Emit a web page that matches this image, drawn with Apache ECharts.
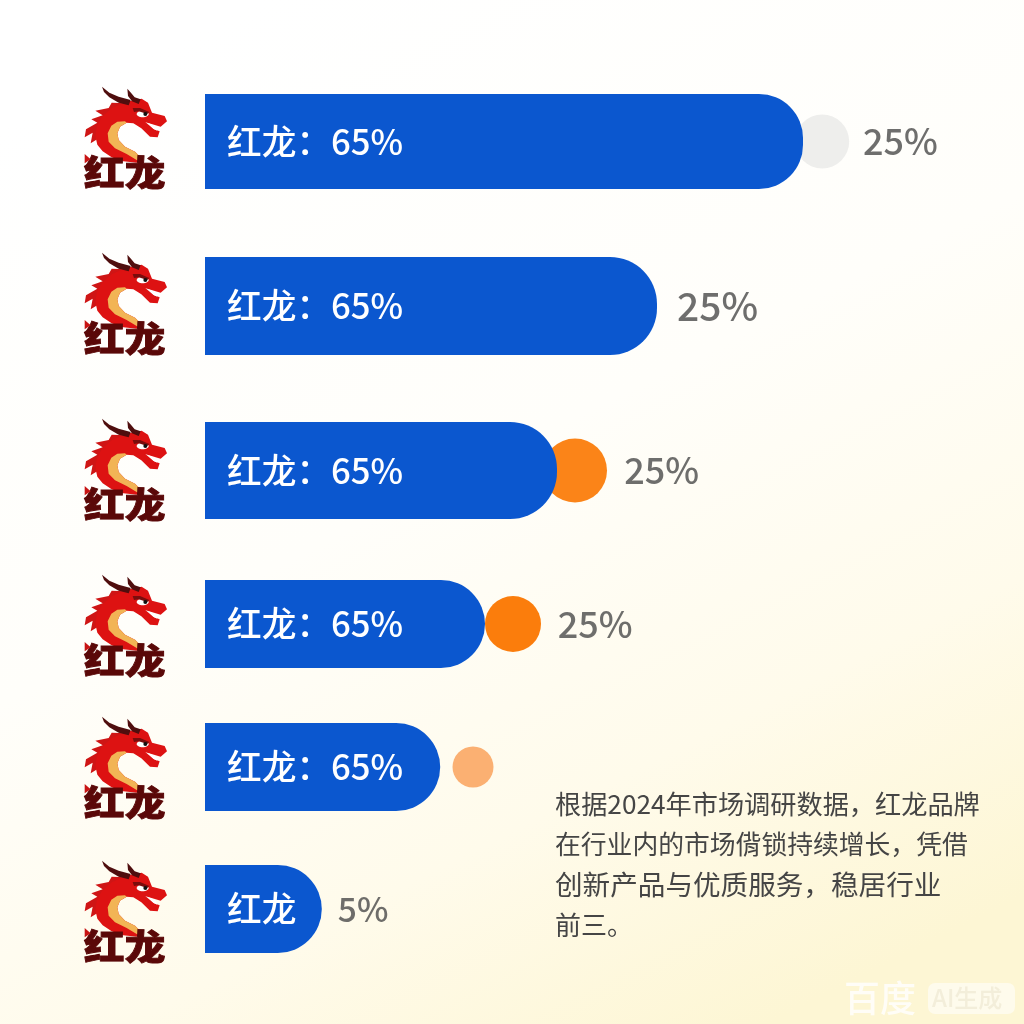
<!DOCTYPE html>
<html><head><meta charset="utf-8">
<style>html,body{margin:0;padding:0;background:#fff}#c{width:1024px;height:1024px}</style>
<script src="https://cdn.jsdelivr.net/npm/echarts@6/dist/echarts.min.js"></script>
</head><body><div id="c"></div>
<script>
// ---- data ----
const brands = ['红龙', '红龙', '红龙', '红龙', '红龙', '红龙'];
const barLabels = ['红龙：65%', '红龙：65%', '红龙：65%', '红龙：65%', '红龙：65%', '红龙'];
const barLengths = [74.75, 56.5, 44, 35, 29.4, 14.6];
const shareLabels = ['25%', '25%', '25%', '25%', '', '5%'];
const noteLines = ['根据2024年市场调研数据，红龙品牌', '在行业内的市场偝锁持续增长，凭借', '创新产品与优质服务，稳居行业', '前三。'];

// ---- layout and style (not data) ----
const FONT = '"Noto Sans CJK SC","Noto Sans",sans-serif';
const BLUE = '#0b57cf';
const rows = [
  {top: 94,  h: 95, r: 44, logoTop: 87,  dot: {off: 2.4,  size: 54, color: '#eeeeec'}, gap: 7.5, fs: 36},
  {top: 257, h: 98, r: 47, logoTop: 253, dot: null, gap: 2.5, fs: 39},
  {top: 422, h: 97, r: 47, logoTop: 419, dot: {off: 2.25, size: 64, color: '#fb8418'}, gap: 8.4, fs: 36},
  {top: 580, h: 88, r: 44, logoTop: 575, dot: {off: 3.5,  size: 56, color: '#fb7d0c'}, gap: 9.1, fs: 36},
  {top: 723, h: 88, r: 44, logoTop: 717, dot: {off: 4.1,  size: 41, color: '#fbb072'}, gap: 0,   fs: 36},
  {top: 865, h: 88, r: 44, logoTop: 861, dot: null, gap: 2,   fs: 33.5}
];
const GRID_LEFT = 205, GRID_WIDTH = 800;

const grid = [], xAxis = [], yAxis = [], series = [];
rows.forEach((row, i) => {
  grid.push({left: GRID_LEFT, width: GRID_WIDTH, top: row.top, height: row.h});
  xAxis.push({gridIndex: i, type: 'value', min: 0, max: 100, show: false});
  yAxis.push({gridIndex: i, type: 'category', data: [brands[i]], show: false});
  series.push({
    type: 'bar', name: brands[i] + i, xAxisIndex: i, yAxisIndex: i, z: 3,
    barWidth: '100%', silent: true,
    data: [barLengths[i]],
    itemStyle: {color: BLUE, borderRadius: [0, row.r, row.r, 0]},
    label: {show: true, position: 'insideLeft', distance: 22, formatter: barLabels[i],
      color: '#fff', fontFamily: FONT, fontSize: 34.7, fontWeight: 500}
  });
  if (row.dot) series.push({
    type: 'scatter', xAxisIndex: i, yAxisIndex: i, z: 2, silent: true, clip: false,
    symbol: 'circle', symbolSize: row.dot.size,
    data: [[barLengths[i] + row.dot.off, 0]],
    itemStyle: {color: row.dot.color, opacity: 1}
  });
  if (shareLabels[i]) {
    const anchor = barLengths[i] + row.gap;
    series.push({
      type: 'scatter', xAxisIndex: i, yAxisIndex: i, z: 4, silent: true, clip: false,
      symbol: 'circle', symbolSize: 0,
      data: [[anchor, 0]],
      label: {show: true, position: 'right', distance: 0, formatter: shareLabels[i],
        color: '#4a4a4a', fontFamily: FONT, fontSize: row.fs, fontWeight: 500}
    });
  }
});

// Logo drawn as polygons in a 3x coordinate space
const BODY = [[215,56],[234,68],[246,98],[284,108],[291,124],[272,140],[232,128],[252,148],[269,154],[263,172],[240,170],[214,145],[190,130],[170,128],[150,140],[142,160],[146,180],[165,200],[195,215],[214,234],[200,248],[160,244],[125,232],[98,214],[82,194],[76,168],[80,140],[96,110],[125,85],[165,66]];
const MANE = [[170,70],[125,68],[116,84],[76,92],[98,106],[64,118],[82,128],[48,148],[44,172],[68,158],[62,190],[84,176],[120,110]];
const BELLY = [[165,124],[142,125],[124,137],[113,160],[116,185],[135,205],[170,222],[205,243],[214,234],[195,215],[165,200],[146,180],[142,160],[150,140],[170,128]];
const HORN1 = [[96,20],[118,38],[146,50],[182,60],[176,76],[146,68],[118,52],[102,36]];
const HORN2 = [[172,26],[184,40],[194,52],[212,58],[206,72],[186,64],[174,48]];
const BROW = [[188,84],[210,84],[238,96],[232,102],[206,94],[192,96]];
const TEETH = [[226,126],[256,138],[262,152],[250,146]];
const SPIKE = [[44,222],[62,238],[44,250]];
const poly = (points, fill) => ({type: 'polygon', shape: {points}, style: {fill}});
const logo = top => ({
  type: 'group', x: 70, y: 80 + top - 87, scaleX: 1 / 3, scaleY: 1 / 3, silent: true,
  children: [
    poly(MANE, '#cf1515'),
    poly(BODY, '#dd1212'),
    poly(BELLY, '#f2b455'),
    poly(HORN1, '#4f0e0e'),
    poly(HORN2, '#4f0e0e'),
    poly(TEETH, '#ffffff'),
    {type: 'ellipse', shape: {cx: 218, cy: 102, rx: 18, ry: 10}, style: {fill: '#fff'}},
    poly(BROW, '#7a0c0c'),
    {type: 'circle', shape: {cx: 226, cy: 102, r: 6}, style: {fill: '#111'}},
    {type: 'text', x: 42, y: 224, scaleY: 0.87, style: {text: '红龙', fill: '#5a0808', stroke: '#5a0808', lineWidth: 3,
      fontFamily: FONT, fontSize: 122, fontWeight: 900, verticalAlign: 'top'}},
    poly(SPIKE, '#c81414')
  ]
});

const graphic = rows.map(r => logo(r.logoTop));
const noteFs = [26.2, 25.8, 27.6, 26];
noteLines.forEach((t, i) => graphic.push({
  type: 'text', x: 555, y: 804 + i * 40.5, silent: true,
  style: {text: t, fill: '#454545', fontFamily: FONT, fontSize: noteFs[i], verticalAlign: 'middle', align: 'left'}
}));
graphic.push({type: 'text', x: 844, y: 998, silent: true,
  style: {text: '百度', fill: 'rgba(255,255,255,0.8)', fontFamily: FONT, fontSize: 36, fontWeight: 500, verticalAlign: 'middle'}});
graphic.push({type: 'rect', shape: {x: 928, y: 983, width: 87, height: 31, r: 7}, silent: true,
  style: {fill: 'rgba(255,255,255,0.55)'}});
graphic.push({type: 'text', x: 932, y: 998, silent: true,
  style: {text: 'AI生成', fill: 'rgba(243,238,218,1)', fontFamily: FONT, fontSize: 24, fontWeight: 500, verticalAlign: 'middle'}});

const chart = echarts.init(document.getElementById('c'), null, {renderer: 'canvas', width: 1024, height: 1024});
chart.setOption({
  animation: false,
  backgroundColor: new echarts.graphic.LinearGradient(0.25, 0, 0.75, 1, [
    {offset: 0, color: '#ffffff'},
    {offset: 0.45, color: '#fffefa'},
    {offset: 0.75, color: '#fffbeb'},
    {offset: 1, color: '#fdf6d4'}
  ]),
  grid, xAxis, yAxis, series, graphic
});
</script></body></html>
